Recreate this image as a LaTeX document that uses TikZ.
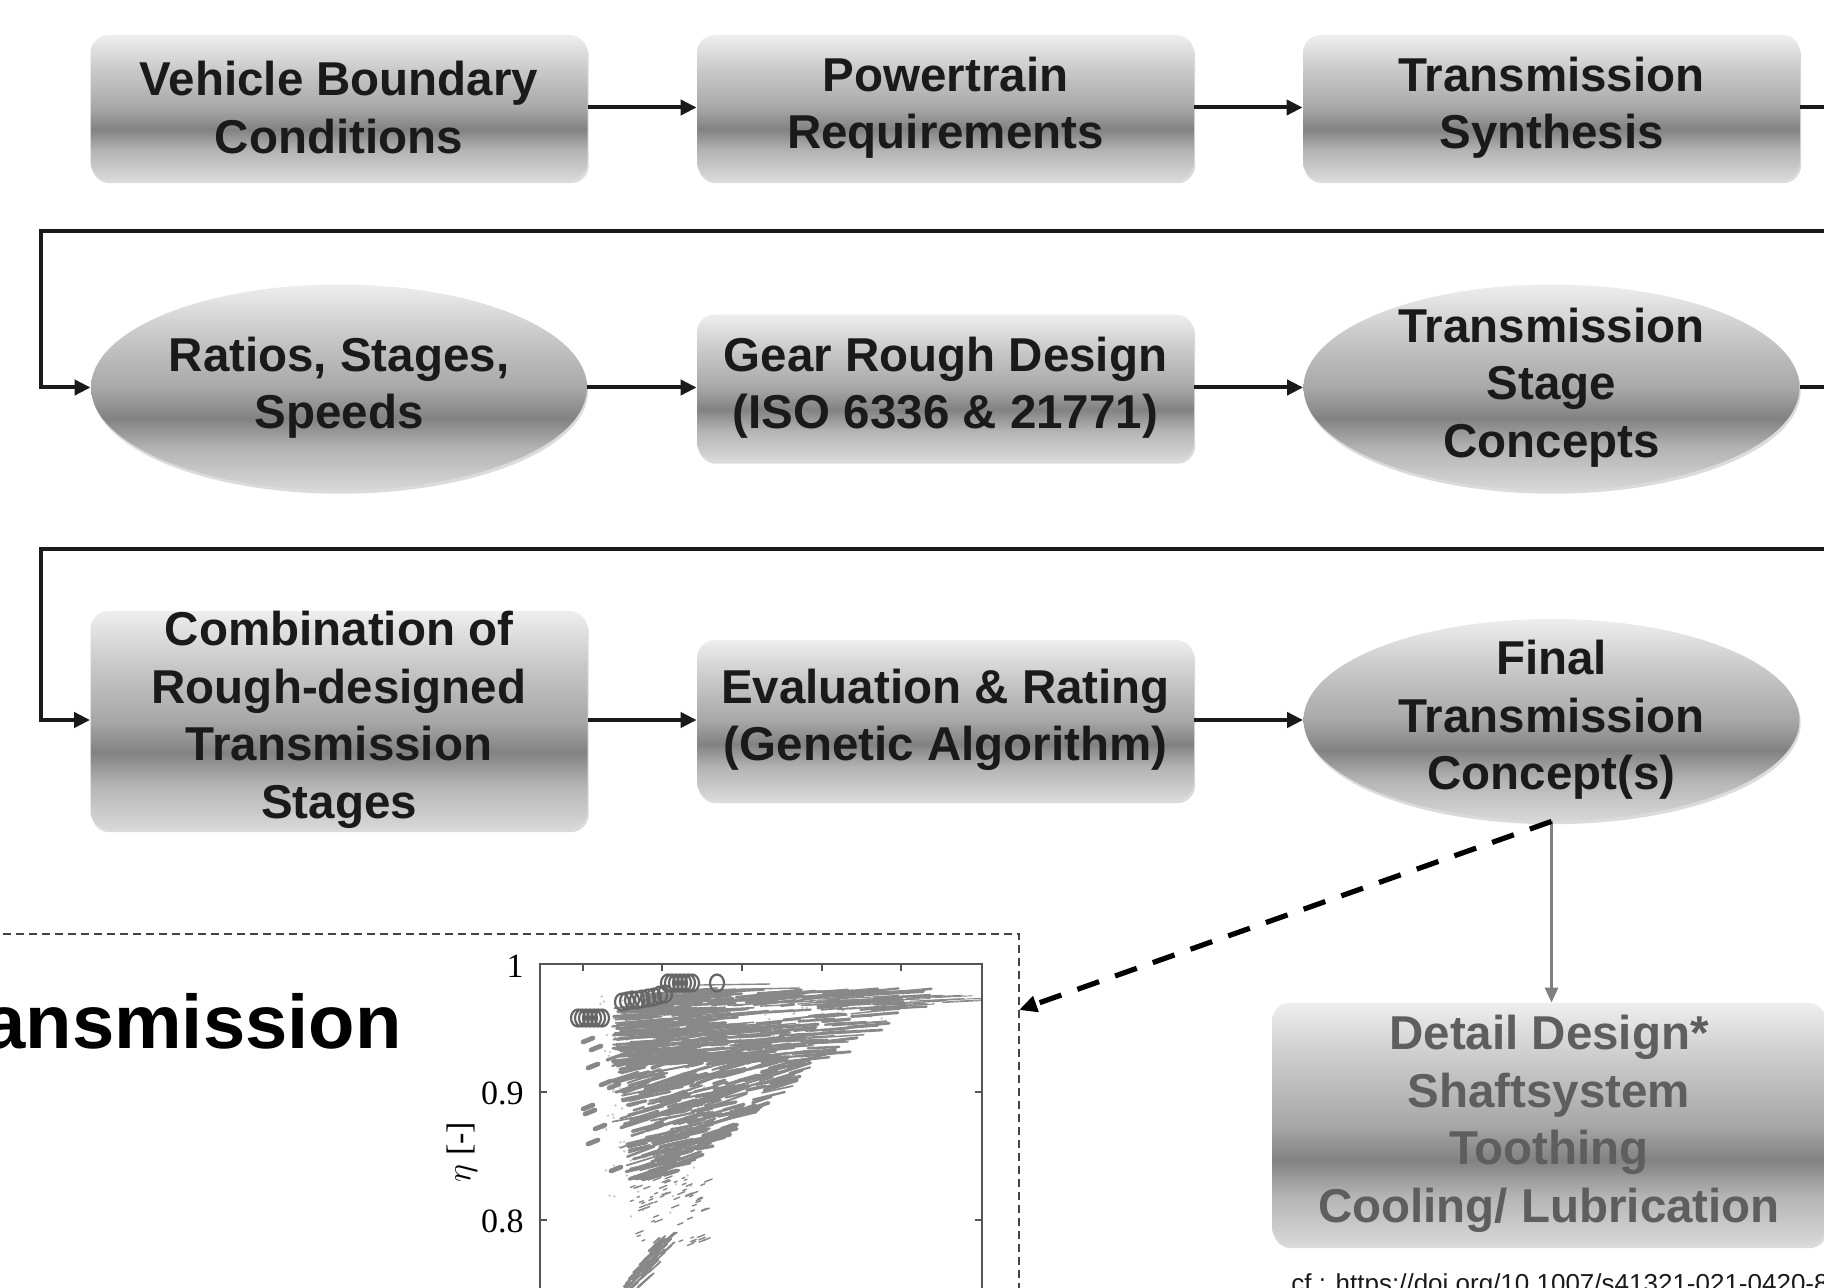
\documentclass[tikz,border=0pt]{standalone}
\usepackage{fontspec}
\setmainfont{Liberation Sans}
\newfontfamily\serifticks{Liberation Serif}
\usetikzlibrary{arrows.meta,shapes.geometric,shadows}

\definecolor{txtdark}{HTML}{1A1A1A}
\definecolor{txtgray}{HTML}{5E5E5E}
\definecolor{linegray}{HTML}{808080}
\definecolor{cloudgray}{HTML}{888888}
\definecolor{hazegray}{HTML}{C4C4C4}
\definecolor{circgray}{HTML}{666666}
\definecolor{framegray}{HTML}{444444}
\definecolor{axisgray}{HTML}{555555}
\definecolor{shS0}{HTML}{D8D8D8}
\definecolor{shS1}{HTML}{B5B5B5}
\definecolor{shS2}{HTML}{828282}
\definecolor{shS3}{HTML}{A8A8A8}
\definecolor{shS4}{HTML}{C8C8C8}
\definecolor{shS5}{HTML}{EEEEEE}

% metallic fill: light at the top, dark band at two thirds of the height, light again at the bottom
\pgfdeclareverticalshading{metal}{100bp}{%
  color(0bp)=(shS0); color(25bp)=(shS0); color(35bp)=(shS1); color(42.5bp)=(shS2);
  color(50bp)=(shS3); color(62.5bp)=(shS4); color(75bp)=(shS5); color(100bp)=(shS5)}

\tikzset{
  blockbox/.style={rectangle, rounded corners=9pt, shade, shading=metal, inner sep=0pt,
    minimum width=248.5pt,
    drop shadow={opacity=0.28, shadow xshift=0.6pt, shadow yshift=-1.6pt}},
  blockoval/.style={ellipse, shade, shading=metal, inner sep=0pt, minimum width=248pt,
    drop shadow={opacity=0.28, shadow xshift=0.6pt, shadow yshift=-1.6pt}},
  blocktext/.style={align=center, text=txtdark, inner sep=0pt,
    font=\fontsize{23.75pt}{28.75pt}\selectfont\bfseries},
  flowarrow/.style={draw=txtdark, line width=2pt, -{Triangle[length=8pt,width=7.5pt]}},
  grayarrow/.style={draw=linegray, line width=1.5pt, -{Triangle[length=7.5pt,width=6.5pt]}},
  dasharrow/.style={draw=black, line width=2.6pt, dash pattern=on 11.5pt off 8.5pt,
    -{Triangle[length=9pt,width=8pt]}},
  framedash/.style={draw=framegray, line width=0.9pt, dash pattern=on 4pt off 2.5pt},
  axisline/.style={draw=axisgray, line width=1pt},
  ticklabel/.style={inner sep=0pt, font=\serifticks\fontsize{17pt}{20pt}\selectfont},
  pareto/.style={draw=circgray, line width=1.1pt},
  streak/.style={draw=cloudgray, line cap=round},
}

\begin{document}
\begin{tikzpicture}[x=0.5pt, y=-0.5pt]
\useasboundingbox (0,0) rectangle (1824,1288);
\fill[white] (0,0) rectangle (1824,1288);
\clip (0,0) rectangle (1824,1288);

% ---- row 1
\node[blockbox, minimum height=72.5pt, blocktext] (vbc) at (339,107.5) {Vehicle Boundary\\Conditions};
\node[blockbox, minimum height=72.5pt, blocktext] (ptr) at (945.5,107.5) {Powertrain\\Requirements};
\node[blockbox, minimum height=72.5pt, blocktext] (tsy) at (1551.5,107.5) {Transmission\\Synthesis};

% ---- row 2
\node[blockoval, minimum height=103pt] (rss) at (339,387.5) {};
\node[blocktext] (rsst) at (rss.center) {Ratios, Stages,\\Speeds};
\node[blockbox, minimum height=73pt, blocktext] (grd) at (945.5,387.5) {Gear Rough Design\\(ISO 6336 \& 21771)};
\node[blockoval, minimum height=103pt] (tsc) at (1551.5,387.5) {};
\node[blocktext] (tsct) at (tsc.center) {Transmission\\Stage\\Concepts};

% ---- row 3
\node[blockbox, minimum height=109pt, blocktext] (cmb) at (339,720) {Combination of\\Rough-designed\\Transmission\\Stages};
\node[blockbox, minimum height=80pt, blocktext] (evr) at (945.5,720) {Evaluation \& Rating\\(Genetic Algorithm)};
\node[blockoval, minimum height=101pt] (ftc) at (1551.5,720) {};
\node[blocktext] (ftct) at (ftc.center) {Final\\Transmission\\Concept(s)};

% ---- detail design
\node[blockbox, minimum width=277pt, minimum height=121pt, blocktext, text=txtgray] (det) at (1549,1124)
  {Detail Design*\\Shaftsystem\\Toothing\\Cooling/ Lubrication};

% ---- flow connectors
\draw[flowarrow] (vbc) -- (ptr);
\draw[flowarrow] (ptr) -- (tsy);
\draw[flowarrow] (tsy.east) -- (1870,107.5) -- (1870,231) -- (41,231) |- (rss.west);
\draw[flowarrow] (rss) -- (grd);
\draw[flowarrow] (grd) -- (tsc);
\draw[flowarrow] (tsc.east) -- (1870,387.5) -- (1870,549) -- (41,549) |- (cmb.west);
\draw[flowarrow] (cmb) -- (evr);
\draw[flowarrow] (evr) -- (ftc);
\draw[grayarrow] (ftc.south) -- (ftc.south |- det.north);

% ---- result plot panel
\draw[framedash] (-10,934) -- (1019,934) -- (1019,1310);
\coordinate (frameR) at (1019,1010);
\draw[dasharrow] (ftc.south) -- (frameR);

\node[anchor=base east, inner sep=0pt, text=black,
  font=\fontsize{38pt}{45pt}\selectfont\bfseries] (ttl) at (402,1048) {Transmission};

% scatter cloud of evaluated concepts
\begin{scope}
  \clip (541,966) rectangle (981,1300);
  \pgfmathsetseed{4242}
  % faint speckle around the cloud
  \foreach \k in {1,...,260}{
    \pgfmathsetmacro{\yy}{995+250*rnd*rnd}
    \pgfmathsetmacro{\xr}{680+300*exp(-(\yy-995)/60)}
    \pgfmathsetmacro{\xx}{600+(\xr-600)*rnd}
    \fill[hazegray] (\xx,\yy) circle[radius=1.3];
  }
  % thin tail of the upper band running out to the right
  \foreach \k in {1,...,60}{
    \pgfmathsetmacro{\yy}{996+10*rnd}
    \pgfmathsetmacro{\xx}{800+150*rnd}
    \pgfmathsetmacro{\ll}{15+40*rnd}
    \draw[streak, line width=0.45pt] (\xx,\yy) -- ++(\ll,-0.05*\ll);
  }
  % upper band: long, nearly flat streaks
  \foreach \k in {1,...,500}{
    \pgfmathsetmacro{\yy}{992+73*rnd}
    \pgfmathsetmacro{\xl}{(\yy<1008) ? 640 : 612}
    \pgfmathsetmacro{\xr}{900-1.6*(\yy-995)}
    \pgfmathsetmacro{\vv}{rnd}
    \pgfmathsetmacro{\xx}{\xl+(\xr-\xl)*\vv*(0.3+0.7*\vv)}
    \pgfmathsetmacro{\ll}{12+45*rnd}
    \pgfmathsetmacro{\sl}{0.04+0.08*rnd}
    \pgfmathsetmacro{\lw}{0.6+0.9*rnd}
    \draw[streak, line width=\lw pt] (\xx,\yy) -- ++(\ll,-\sl*\ll);
  }
  % middle: a diagonal band of steeper streaks
  \foreach \k in {1,...,320}{
    \pgfmathsetmacro{\rr}{rnd}
    \pgfmathsetmacro{\yy}{1058+122*\rr*(0.5+0.5*\rr)}
    \pgfmathsetmacro{\cc}{720-0.55*(\yy-1060)}
    \pgfmathsetmacro{\hw}{max(15,100-0.7*(\yy-1060))}
    \pgfmathsetmacro{\ll}{8+28*rnd}
    \pgfmathsetmacro{\xx}{\cc+\hw*(2*rnd-1)-\ll/2}
    \pgfmathsetmacro{\sl}{0.18+0.2*rnd}
    \pgfmathsetmacro{\lw}{0.8+1.2*rnd}
    \draw[streak, line width=\lw pt] (\xx,\yy) -- ++(\ll,-\sl*\ll);
  }
  % sparse points below
  \foreach \k in {1,...,70}{
    \pgfmathsetmacro{\yy}{1178+70*rnd}
    \pgfmathsetmacro{\xx}{630+75*rnd}
    \pgfmathsetmacro{\ll}{2+6*rnd}
    \draw[streak, line width=0.7pt] (\xx,\yy) -- ++(\ll,-0.4*\ll);
  }
  % narrow streak at the bottom
  \foreach \k in {1,...,80}{
    \pgfmathsetmacro{\yy}{1242+50*rnd}
    \pgfmathsetmacro{\xx}{630+(1288-\yy)*0.7+16*(rnd-0.5)}
    \pgfmathsetmacro{\ll}{5+10*rnd}
    \draw[streak, line width=0.9pt] (\xx,\yy) -- ++(\ll,-0.9*\ll);
  }
  % isolated blobs at the left edge
  \foreach \bx/\by in {588/1040,593/1066,606/1083,614/1086,588/1107,593/1142,600/1127,616/1169,596/1048,590/1112}
    \draw[streak, line width=2.4pt] (\bx-5,\by+2) -- (\bx+5,\by-2);
  \draw[cloudgray, line width=0.7pt] (700,985) -- (770,984);
  \draw[cloudgray, line width=0.7pt] (700,990) -- (800,988);
\end{scope}

% Pareto-optimal concepts
\foreach \cx in {578,582,586,590,594,598,602}
  \draw[pareto] (\cx,1018) circle[x radius=7, y radius=8.5];
\foreach \cx/\cy in {622/1002,627/1001,632/1000,637/1000,642/999,648/998,654/997,660/995,665/994}
  \draw[pareto] (\cx,\cy) circle[x radius=7, y radius=8.5];
\foreach \cx in {668,672,676,680,684,688,692}
  \draw[pareto] (\cx,983) circle[x radius=7, y radius=8.5];
\draw[pareto] (717,983) circle[x radius=7, y radius=8.5];

% axes
\draw[axisline] (540,1310) -- (540,964) -- (982,964) -- (982,1310);
\foreach \tx in {583,662,742,822,901} \draw[axisline] (\tx,964) -- ++(0,7);
\foreach \ty in {1092,1220} {
  \draw[axisline] (540,\ty) -- ++(7,0);
  \draw[axisline] (982,\ty) -- ++(-7,0);
}
\node[ticklabel, anchor=east] (y10) at (524,966) {1};
\node[ticklabel, anchor=east] (y09) at (524,1093) {0.9};
\node[ticklabel, anchor=east] (y08) at (524,1221) {0.8};
\node[ticklabel, rotate=90] (ylab) at (462,1152) {$\eta$ [-]};

% source note
\node[anchor=base west, inner sep=0pt, text=txtdark, font=\fontsize{13pt}{15pt}\selectfont] (cite)
  at (1291,1292) {cf.: https://doi.org/10.1007/s41321-021-0420-8};
\end{tikzpicture}
\end{document}
